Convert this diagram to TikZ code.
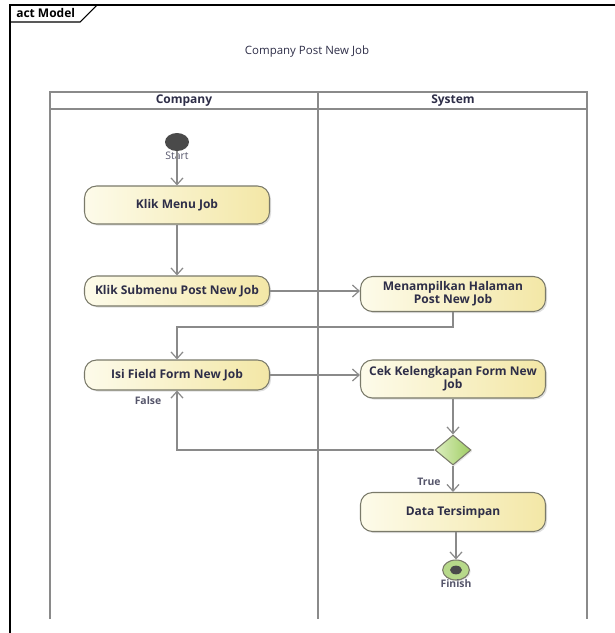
\documentclass[tikz,border=0pt]{standalone}
\usepackage{fontspec}
\setmainfont{Open Sans}
\usetikzlibrary{arrows.meta,shapes.geometric,shadows}
\definecolor{lanegray}{HTML}{8A8A8A}
\definecolor{boxborder}{HTML}{7A7A6A}
\definecolor{boxleft}{HTML}{FDFBEA}
\definecolor{boxright}{HTML}{F3E7A6}
\definecolor{txt}{HTML}{2E2E48}
\definecolor{lbl}{HTML}{55556A}
\definecolor{greenL}{HTML}{DDEFC0}
\definecolor{greenR}{HTML}{9FCC63}
\definecolor{dotgray}{HTML}{4A4A4A}
\begin{document}
\begin{tikzpicture}[x=0.75pt,y=-0.75pt,
  action/.style={draw=boxborder, line width=0.8pt, rounded corners=9pt,
    left color=boxleft, right color=boxright, minimum width=138.75pt,
    font=\fontsize{9}{10}\selectfont\bfseries, text=txt, align=center,
    drop shadow={shadow xshift=1.2pt, shadow yshift=-1.2pt, opacity=0.25}},
  flow/.style={draw=lanegray, line width=0.9pt, -{Straight Barb[length=5pt,width=9pt]}},
  lane/.style={draw=lanegray, line width=1.5pt},
  lbltext/.style={font=\fontsize{7.8}{9}\selectfont\bfseries, text=lbl},
  hdr/.style={font=\fontsize{9}{10}\selectfont\bfseries, text=txt}]
\useasboundingbox (0,0) rectangle (615,633);
% frame
\draw[black, line width=0.8pt] (10,633) -- (10,5) -- (615,5);
\draw[black, line width=0.8pt] (10,22) -- (80,22) -- (97,5);
\node[font=\fontsize{9}{10}\selectfont\bfseries, anchor=west, inner sep=0pt] (frametitle) at (16,13) {act Model};
\node[font=\fontsize{8.6}{10}\selectfont, text=txt] (title) at (307,52) {Company Post New Job};
% swimlanes
\draw[lane] (50,619) -- (50,92) -- (587,92) -- (587,619);
\draw[lane] (318,92) -- (318,619);
\draw[lane] (50,109) -- (587,109);
\node[hdr] (lane1) at (184,100.5) {Company};
\node[hdr] (lane2) at (453,100.5) {System};
% start
\node[ellipse, fill=dotgray, minimum width=18pt, minimum height=13.5pt, inner sep=0pt] (start) at (177,142) {};
\node[lbltext, font=\fontsize{7.8}{9}\selectfont] (startlbl) at (177,156) {Start};
% actions
\node[action, minimum height=28.5pt] (menu) at (177,205) {Klik Menu Job};
\node[action, minimum height=22.5pt] (sub) at (177,291) {Klik Submenu Post New Job};
\node[action, minimum height=26.25pt] (tampil) at (453,294) {Menampilkan Halaman\\Post New Job};
\node[action, minimum height=22.5pt] (isi) at (177,375) {Isi Field Form New Job};
\node[action, minimum height=28.5pt] (cek) at (453,379) {Cek Kelengkapan Form New\\Job};
\node[diamond, draw=boxborder, line width=0.8pt, left color=greenL, right color=greenR,
  minimum width=27pt, minimum height=22.5pt, inner sep=0pt, aspect=1.2,
  drop shadow={shadow xshift=1pt, shadow yshift=-1pt, opacity=0.2}] (dec) at (453,450) {};
\node[action, minimum height=29.25pt] (data) at (453,512) {Data Tersimpan};
% finish
\node[ellipse, draw=boxborder, line width=0.8pt, fill=greenR!75!white, minimum width=20pt, minimum height=15pt, inner sep=0pt,
  drop shadow={shadow xshift=1pt, shadow yshift=-1pt, opacity=0.2}] (fin) at (456,570) {};
\node[ellipse, fill=dotgray, minimum width=9pt, minimum height=6.5pt, inner sep=0pt] (findot) at (456,570) {};
\node[lbltext] (finlbl) at (456,584) {Finish};
% connectors
\coordinate (bend1) at (177,327);
\draw[flow] (start) -- (menu);
\draw[flow] (menu) -- (sub);
\draw[flow] (sub.east) -- (sub.east -| tampil.west);
\draw[flow] (tampil.south) |- (bend1) -- (isi.north);
\draw[flow] (isi.east) -- (isi.east -| cek.west);
\draw[flow] (cek.south) -- (dec.north);
\draw[flow] (dec.west) -| (isi.south);
\draw[flow] (dec.south) -- (data.north);
\draw[flow] (fin |- data.south) -- (fin.north);
\node[lbltext] (falselbl) at (148,401) {False};
\node[lbltext] (truelbl) at (429,482) {True};
\end{tikzpicture}
\end{document}
